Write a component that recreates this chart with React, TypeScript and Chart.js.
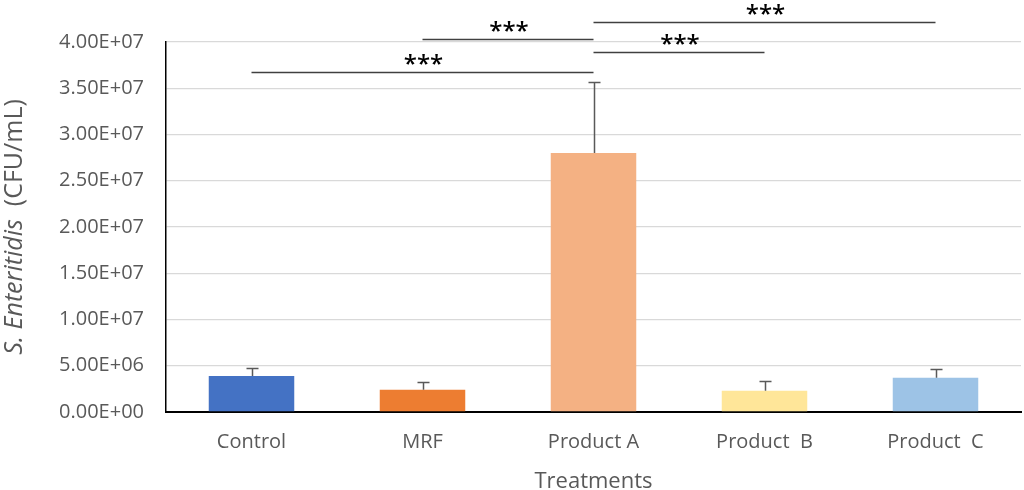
import React, { useEffect, useRef } from "react";
import { Chart, registerables } from "chart.js";

Chart.register(...registerables);

const categories = ["Control", "MRF", "Product A", "Product  B", "Product  C"];
const means = [3.9e6, 2.4e6, 2.8e7, 2.3e6, 3.7e6];
const errors = [0.85e6, 0.8e6, 7.7e6, 1.1e6, 0.9e6];
const barColors = ["#4472C4", "#ED7D31", "#F4B183", "#FFE699", "#9DC3E6"];
const yTickLabels = [
  "0.00E+00",
  "5.00E+06",
  "1.00E+07",
  "1.50E+07",
  "2.00E+07",
  "2.50E+07",
  "3.00E+07",
  "3.50E+07",
  "4.00E+07",
];
const sigFrom = [0, 1, 2, 2];
const sigTo = [2, 2, 3, 4];
const sigLevel = [3.68e7, 4.03e7, 3.89e7, 4.22e7];
const sigLabels = ["***", "***", "***", "***"];
const yTitleItalic = "S. Enteritidis";
const yTitleNormal = "  (CFU/mL)";
const xTitle = "Treatments";

const FONT = "'Open Sans', sans-serif";

const annotPlugin = {
  id: "annot",
  afterDraw(chart: any) {
    const { ctx, scales, chartArea } = chart;
    const x = scales.x;
    const y = scales.y;
    ctx.save();
    // error bars
    ctx.strokeStyle = "#595959";
    ctx.lineWidth = 1.5;
    means.forEach((m, i) => {
      const px = Math.round(x.getPixelForValue(i)) + 0.5;
      const y0 = y.getPixelForValue(m);
      const y1 = Math.round(y.getPixelForValue(m + errors[i])) + 0.5;
      ctx.beginPath();
      ctx.moveTo(px, y0);
      ctx.lineTo(px, y1);
      ctx.moveTo(px - 6, y1);
      ctx.lineTo(px + 6, y1);
      ctx.stroke();
    });
    // significance brackets
    ctx.strokeStyle = "#404040";
    ctx.lineWidth = 1.3;
    ctx.fillStyle = "#000000";
    ctx.font = `600 24px ${FONT}`;
    ctx.textAlign = "center";
    ctx.textBaseline = "alphabetic";
    sigFrom.forEach((f, i) => {
      const x1 = x.getPixelForValue(f);
      const x2 = x.getPixelForValue(sigTo[i]);
      const yy = Math.round(y.getPixelForValue(sigLevel[i])) + 0.5;
      ctx.beginPath();
      ctx.moveTo(x1, yy);
      ctx.lineTo(x2, yy);
      ctx.stroke();
      ctx.fillText(sigLabels[i], (x1 + x2) / 2 + 1, yy - 1);
    });
    // y-axis title (mixed italic / normal)
    ctx.fillStyle = "#595959";
    ctx.textAlign = "left";
    ctx.textBaseline = "middle";
    const fi = `italic 25px ${FONT}`;
    const fn = `25px ${FONT}`;
    ctx.font = fi;
    const w1 = ctx.measureText(yTitleItalic).width;
    ctx.font = fn;
    const w2 = ctx.measureText(yTitleNormal).width;
    const cy = (chartArea.top + chartArea.bottom) / 2;
    ctx.translate(15, cy);
    ctx.rotate(-Math.PI / 2);
    const start = -(w1 + w2) / 2;
    ctx.font = fi;
    ctx.fillText(yTitleItalic, start, 0);
    ctx.font = fn;
    ctx.fillText(yTitleNormal, start + w1, 0);
    ctx.restore();
  },
};

export default function App() {
  const ref = useRef<HTMLCanvasElement>(null);
  useEffect(() => {
    if (!ref.current) return;
    const chart = new Chart(ref.current, {
      type: "bar",
      data: {
        labels: categories,
        datasets: [
          {
            data: means,
            backgroundColor: barColors,
            borderWidth: 0,
            barPercentage: 0.5,
            categoryPercentage: 1,
          },
        ],
      },
      options: {
        responsive: false,
        animation: false,
        layout: { padding: { top: 42, right: 3, left: 0, bottom: 0 } },
        plugins: {
          legend: { display: false },
          tooltip: { enabled: false },
        },
        scales: {
          x: {
            grid: { display: false },
            border: { display: true, color: "#000000", width: 2 },
            ticks: {
              color: "#595959",
              font: { family: FONT, size: 20 },
              padding: 10,
              maxRotation: 0,
            },
            title: {
              display: true,
              text: xTitle,
              color: "#595959",
              font: { family: FONT, size: 22 },
              padding: { top: 0, bottom: -5 },
            },
            afterFit: (s: any) => {
              s.height = 78;
            },
          },
          y: {
            min: 0,
            max: 4e7,
            grid: { color: "#d9d9d9", lineWidth: 1.3, drawTicks: false },
            border: { display: true, color: "#000000", width: 1.5 },
            ticks: {
              stepSize: 5e6,
              color: "#595959",
              font: { family: FONT, size: 20 },
              padding: 22,
              callback: (_v: any, i: number) => yTickLabels[i],
            },
            afterFit: (s: any) => {
              s.width = 166;
            },
          },
        },
      },
      plugins: [annotPlugin],
    });
    return () => chart.destroy();
  }, []);
  return (
    <div style={{ position: "absolute", left: 0, top: 0, width: 1024, height: 490, background: "#fff" }}>
      <canvas ref={ref} width={1024} height={490} />
    </div>
  );
}
